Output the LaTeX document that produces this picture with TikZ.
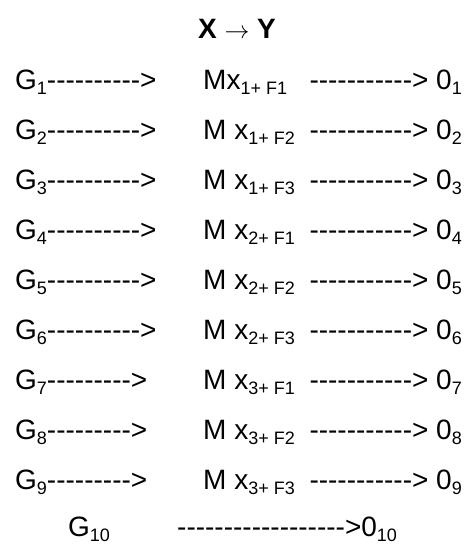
\documentclass[tikz,border=0pt]{standalone}
\usepackage{fontspec}
\setmainfont{Liberation Sans}
% a run of plain hyphens, kept apart so they never join into dashes
\ExplSyntaxOn
\NewDocumentCommand\dashrun{m}{\prg_replicate:nn{#1}{-\kern0pt}}
\ExplSyntaxOff
\newcommand\lowidx[1]{\raisebox{-0.2em}{\fontsize{18}{18}\selectfont #1}}
\begin{document}
\begin{tikzpicture}[x=1pt,y=1pt,
  txt/.style={inner sep=0pt, font=\fontsize{28}{32}\selectfont},
  head/.style={inner sep=0pt, font=\fontsize{28}{32}\selectfont\bfseries}]
\useasboundingbox (0,0) rectangle (472,-544);
\node[head, anchor=base] (title) at (237,-38) {X $\rightarrow$ Y};
% rows: index / hyphens on the left / middle term
\foreach \i/\n/\mid in {1/10/{Mx\lowidx{1+ F1}},
                       2/10/{M x\lowidx{1+ F2}},
                       3/10/{M x\lowidx{1+ F3}},
                       4/10/{M x\lowidx{2+ F1}},
                       5/10/{M x\lowidx{2+ F2}},
                       6/10/{M x\lowidx{2+ F3}},
                       7/9/{M x\lowidx{3+ F1}},
                       8/9/{M x\lowidx{3+ F2}},
                       9/9/{M x\lowidx{3+ F3}}}{
  \pgfmathsetmacro\yy{-89-50*(\i-1)}
  \node[txt, anchor=base west] (g\i) at (15,\yy) {G\lowidx{\i}\dashrun{\n}>};
  \node[txt, anchor=base west] (m\i) at (203,\yy) {\mid};
  \node[txt, anchor=base east] (o\i) at (462,\yy) {\dashrun{11}> 0\lowidx{\i}};
}
\node[txt, anchor=base west] (g10) at (68,-536) {G\lowidx{10}};
\node[txt, anchor=base west] (o10) at (177,-536) {\dashrun{18}>0\lowidx{10}};
\end{tikzpicture}
\end{document}
